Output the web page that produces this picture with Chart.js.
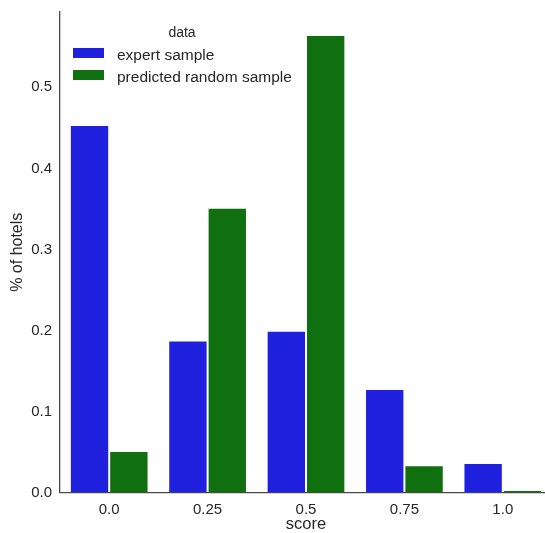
<!DOCTYPE html>
<html>
<head>
<meta charset="utf-8">
<script src="https://cdn.jsdelivr.net/npm/chart.js@4/dist/chart.umd.min.js"></script>
<style>
  html, body { margin: 0; padding: 0; background: #fff; overflow: hidden; }
  #wrap { width: 552px; height: 533px; }
</style>
</head>
<body>
<div id="wrap"><canvas id="myChart" width="552" height="533"></canvas></div>
<script>
// score buckets and share of hotels in each
const scores = ['0.0', '0.25', '0.5', '0.75', '1.0'];
const expertSample = [0.4535, 0.1877, 0.1997, 0.1277, 0.0363];
const randomSample = [0.0512, 0.3515, 0.5645, 0.0335, 0.0030];
const yTicks = [0, 0.1, 0.2, 0.3, 0.4, 0.5];

const textColor = '#262626';
const fontFamily = '"Liberation Sans", Arial, sans-serif';

// legend box in the upper left of the plot, with a "data" heading
const boxLegend = {
  id: 'boxLegend',
  afterDraw(chart) {
    const ctx = chart.ctx;
    const area = chart.chartArea;
    const x0 = area.left + 13;
    const y0 = area.top + 36;
    ctx.save();
    ctx.fillStyle = textColor;
    ctx.font = '14px ' + fontFamily;
    ctx.textAlign = 'center';
    ctx.textBaseline = 'middle';
    ctx.fillText('data', area.left + 122, area.top + 21);
    ctx.textAlign = 'left';
    ctx.font = '15.5px ' + fontFamily;
    chart.data.datasets.forEach((ds, i) => {
      const y = y0 + i * 22;
      ctx.fillStyle = ds.backgroundColor;
      ctx.fillRect(x0, y, 31, 10);
      ctx.fillStyle = textColor;
      ctx.fillText(ds.label, x0 + 44, y + 7.5);
    });
    ctx.restore();
  }
};

const ctx = document.getElementById('myChart').getContext('2d');
new Chart(ctx, {
  type: 'bar',
  data: {
    labels: scores,
    datasets: [
      {
        label: 'expert sample',
        data: expertSample,
        backgroundColor: '#2020df',
        borderColor: 'rgba(255,255,255,0.2)',
        borderWidth: 1
      },
      {
        label: 'predicted random sample',
        data: randomSample,
        backgroundColor: '#107010',
        borderColor: 'rgba(255,255,255,0.2)',
        borderWidth: 1
      }
    ]
  },
  options: {
    responsive: false,
    devicePixelRatio: 1,
    animation: false,
    categoryPercentage: 0.8,
    barPercentage: 1.0,
    layout: { padding: { top: 12, right: 0, left: 0, bottom: 0 } },
    scales: {
      x: {
        grid: { display: false, drawTicks: false },
        border: { display: true, color: '#4a4a4a', width: 1.3 },
        ticks: {
          color: textColor,
          padding: 8,
          font: { size: 15, family: fontFamily }
        },
        title: {
          display: true,
          text: 'score',
          color: textColor,
          padding: { top: 0, bottom: 0 },
          font: { size: 16.5, family: fontFamily, lineHeight: 1.0 }
        },
        afterFit(scale) {
          scale.height = 40.5;
          scale.paddingLeft = 0;
          scale.paddingRight = 0;
        }
      },
      y: {
        min: 0,
        max: 0.593,
        grid: { display: false, drawTicks: false },
        border: { display: true, color: '#4a4a4a', width: 1.3 },
        afterBuildTicks(scale) {
          scale.ticks = yTicks.map(v => ({ value: v }));
        },
        ticks: {
          color: textColor,
          padding: 8,
          font: { size: 15, family: fontFamily },
          callback: v => Number(v).toFixed(1)
        },
        title: {
          display: true,
          text: '% of hotels',
          color: textColor,
          padding: { top: 8, bottom: 0 },
          font: { size: 16, family: fontFamily }
        },
        afterFit(scale) {
          scale.width = 60;
          // keep the plot top at the layout padding, not the tick label height
          scale.paddingTop = 0;
          scale.paddingBottom = 0;
        }
      }
    },
    plugins: {
      legend: { display: false },
      tooltip: { enabled: false }
    }
  },
  plugins: [boxLegend]
});
</script>
</body>
</html>
